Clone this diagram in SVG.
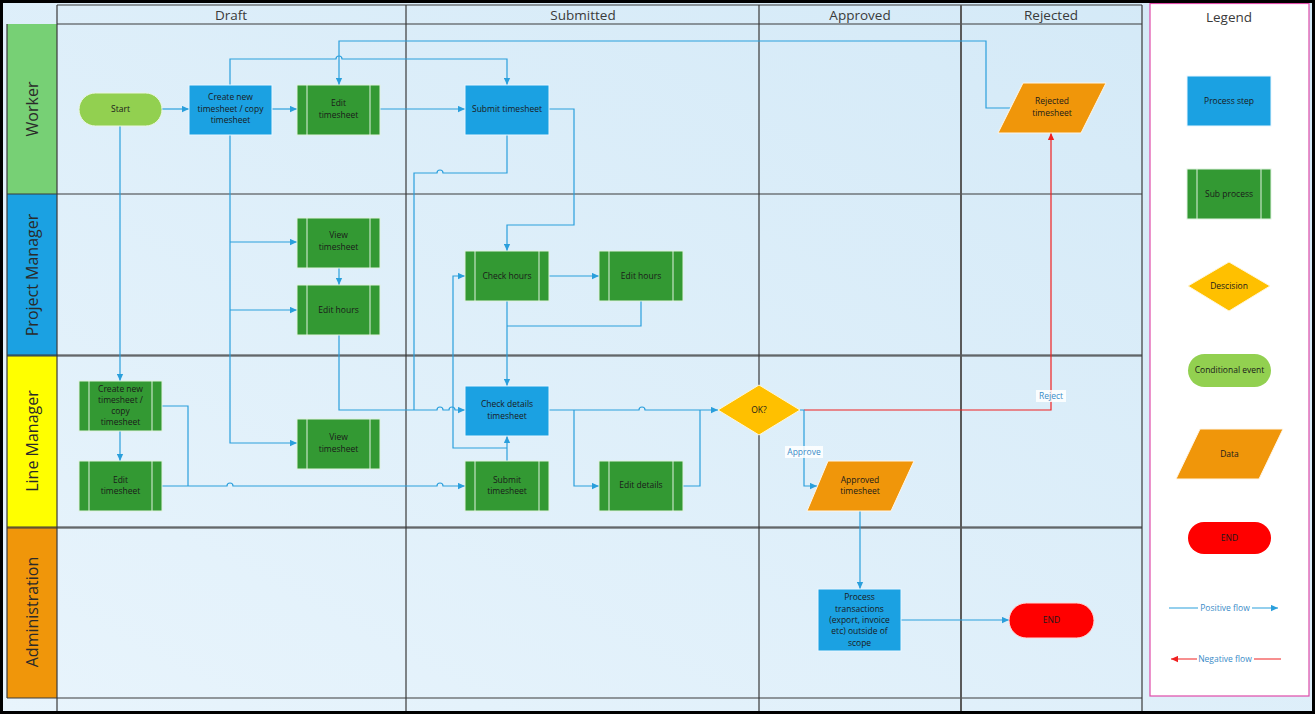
<svg xmlns="http://www.w3.org/2000/svg" width="1315" height="714" viewBox="0 0 1315 714">
<defs>
<linearGradient id="bg" x1="0" y1="1" x2="1" y2="0">
<stop offset="0" stop-color="#e8f4fc"/>
<stop offset="1" stop-color="#d3e9f7"/>
</linearGradient>
<marker id="ab" viewBox="0 0 10 10" refX="10" refY="5" markerWidth="7" markerHeight="7" markerUnits="userSpaceOnUse" orient="auto"><path d="M0,0.5 L10,5 L0,9.5z" fill="#2a9fdc"/></marker>
<marker id="ar" viewBox="0 0 10 10" refX="10" refY="5" markerWidth="7" markerHeight="7" markerUnits="userSpaceOnUse" orient="auto"><path d="M0,0.5 L10,5 L0,9.5z" fill="#f02020"/></marker>
</defs>
<style>
.grid{fill:none;stroke:#3a3a3a;stroke-width:1.2}
.hd{font-family:"Open Sans","Noto Sans",sans-serif;font-size:13.5px;fill:#3a3a3a;text-anchor:middle}
.lane{font-family:"Open Sans","Noto Sans",sans-serif;font-size:16px;fill:#2a2a2a;text-anchor:middle}
.t{font-family:"Open Sans","Noto Sans",sans-serif;font-size:8.5px;fill:#1a1a1a;text-anchor:middle}
.lbl{font-family:"Open Sans","Noto Sans",sans-serif;font-size:8.5px;fill:#3a8cc8;text-anchor:middle}
.proc{fill:#1ba1e2;stroke:#e8f6ff;stroke-width:1}
.sub{fill:#339933;stroke:#e0f2e0;stroke-width:1}
.subl{stroke:#e0f2e0;stroke-width:1}
.data{fill:#f0960a;stroke:#fff6e8;stroke-width:1}
.dec{fill:#ffc000;stroke:#fff7d8;stroke-width:1}
.ln{fill:none;stroke:#2a9fdc;stroke-width:1.2}
.lnr{fill:none;stroke:#f02020;stroke-width:1.2}
</style>
<!-- background -->
<rect x="0" y="0" width="1315" height="714" fill="url(#bg)"/>
<!-- pool grid -->
<g id="pool">
<rect x="7" y="24" width="50" height="170" fill="#77d075"/>
<rect x="7" y="194" width="50" height="162" fill="#1ba1e2"/>
<rect x="7" y="356" width="50" height="171" fill="#ffff00"/>
<rect x="7" y="527" width="50" height="171" fill="#f0960a"/>
<path class="grid" d="M57,5 H1142 M57,24 H1142"/>
<path class="grid" d="M7,24 V698 M7,194 H1142 M7,356 H1142 M7,527 H1142 M7,698 H1142"/>
<path class="grid" d="M7,355 H1142 M7,528 H1142" stroke-width="0.8"/>
<path class="grid" d="M57,5 V714 M406,5 V714 M759,5 V714 M1142,5 V714"/>
<path d="M961,5 V714" fill="none" stroke="#5a5a5a" stroke-width="2"/>
<text class="hd" x="231" y="20">Draft</text>
<text class="hd" x="583" y="20">Submitted</text>
<text class="hd" x="860" y="20">Approved</text>
<text class="hd" x="1051" y="20">Rejected</text>
<text class="lane" transform="translate(38,109) rotate(-90)">Worker</text>
<text class="lane" transform="translate(38,275) rotate(-90)">Project Manager</text>
<text class="lane" transform="translate(38,441) rotate(-90)">Line Manager</text>
<text class="lane" transform="translate(38,612) rotate(-90)">Administration</text>
</g>
<!-- connectors -->
<g id="connectors">
<path class="ln" d="M161,109 H189" marker-end="url(#ab)"/>
<path class="ln" d="M272,109 H297" marker-end="url(#ab)"/>
<path class="ln" d="M380,109 H465" marker-end="url(#ab)"/>
<path class="ln" d="M230,85 V59 H336 a3,3 0 0 1 6,0 H507 V85" marker-end="url(#ab)"/>
<path class="ln" d="M1010,108 H986 V41 H339 V85" marker-end="url(#ab)"/>
<path class="ln" d="M549,109 H574 V225 H507 V251" marker-end="url(#ab)"/>
<path class="ln" d="M507,135 V173 H443 a3,3 0 0 0 -6,0 H414 V410"/>
<path class="ln" d="M339,335 V410 H437 a3,3 0 0 1 6,0 H449 a3,3 0 0 1 6,0 H465" marker-end="url(#ab)"/>
<path class="ln" d="M507,461 V436" marker-end="url(#ab)"/>
<path class="ln" d="M507,448 H453 V276 H465" marker-end="url(#ab)"/>
<path class="ln" d="M549,276 H599" marker-end="url(#ab)"/>
<path class="ln" d="M507,301 V386" marker-end="url(#ab)"/>
<path class="ln" d="M641,301 V326 H507"/>
<path class="ln" d="M549,410 H639 a3,3 0 0 1 6,0 H718" marker-end="url(#ab)"/>
<path class="ln" d="M574,410 V486 H599" marker-end="url(#ab)"/>
<path class="ln" d="M683,486 H700 V410"/>
<path class="ln" d="M120,126 V381" marker-end="url(#ab)"/>
<path class="ln" d="M120,431 V461" marker-end="url(#ab)"/>
<path class="ln" d="M230,135 V443 H297" marker-end="url(#ab)"/>
<path class="ln" d="M230,242 H297" marker-end="url(#ab)"/>
<path class="ln" d="M230,310 H297" marker-end="url(#ab)"/>
<path class="ln" d="M339,268 V285" marker-end="url(#ab)"/>
<path class="ln" d="M162,406 H188 V486"/>
<path class="ln" d="M162,486 H227 a3,3 0 0 1 6,0 H437 a3,3 0 0 1 6,0 H465" marker-end="url(#ab)"/>
<path class="lnr" d="M804,410 H1051 V133" marker-end="url(#ar)"/>
<path class="ln" d="M800,410 H804 V486 H817" marker-end="url(#ab)"/>
<path class="ln" d="M860,511 V589" marker-end="url(#ab)"/>
<path class="ln" d="M901,620 H1009" marker-end="url(#ab)"/>
<rect x="1036" y="390" width="30" height="12" fill="#ffffff" opacity="0.85"/>
<text class="lbl" x="1051" y="399">Reject</text>
<rect x="785" y="446" width="38" height="12" fill="#ffffff" opacity="0.85"/>
<text class="lbl" x="804" y="455">Approve</text>
</g>
<!-- nodes -->
<g id="start"><rect x="79" y="93" width="83" height="33" rx="16.5" fill="#92d050" stroke="#eaf6e0"/><text class="t" x="120.5" y="112">Start</text></g>
<g id="create_worker"><rect class="proc" x="189" y="85" width="83" height="50"/><text class="t" x="230.5" y="100">Create new</text><text class="t" x="230.5" y="111.5">timesheet / copy</text><text class="t" x="230.5" y="123">timesheet</text></g>
<g id="edit_worker"><rect class="sub" x="297" y="85" width="83" height="50"/><path class="subl" d="M307,85 V135 M370,85 V135"/><text class="t" x="338.5" y="106">Edit</text><text class="t" x="338.5" y="118">timesheet</text></g>
<g id="submit_worker"><rect class="proc" x="465" y="85" width="84" height="50"/><text class="t" x="507" y="112">Submit timesheet</text></g>
<g id="rejected"><polygon class="data" points="1023,83 1106,83 1081,133 998,133"/><text class="t" x="1052" y="104">Rejected</text><text class="t" x="1052" y="116">timesheet</text></g>
<g id="view_pm"><rect class="sub" x="297" y="218" width="83" height="50"/><path class="subl" d="M307,218 V268 M370,218 V268"/><text class="t" x="338.5" y="238">View</text><text class="t" x="338.5" y="250">timesheet</text></g>
<g id="edithours_pm"><rect class="sub" x="297" y="285" width="83" height="50"/><path class="subl" d="M307,285 V335 M370,285 V335"/><text class="t" x="338.5" y="313">Edit hours</text></g>
<g id="checkhours"><rect class="sub" x="465" y="251" width="84" height="50"/><path class="subl" d="M475,251 V301 M539,251 V301"/><text class="t" x="507" y="279">Check hours</text></g>
<g id="edithours"><rect class="sub" x="599" y="251" width="84" height="50"/><path class="subl" d="M609,251 V301 M673,251 V301"/><text class="t" x="641" y="279">Edit hours</text></g>
<g id="create_lm"><rect class="sub" x="79" y="381" width="83" height="50"/><path class="subl" d="M89,381 V431 M152,381 V431"/><text class="t" x="120.5" y="392">Create new</text><text class="t" x="120.5" y="403">timesheet /</text><text class="t" x="120.5" y="414">copy</text><text class="t" x="120.5" y="425">timesheet</text></g>
<g id="edit_lm"><rect class="sub" x="79" y="461" width="83" height="50"/><path class="subl" d="M89,461 V511 M152,461 V511"/><text class="t" x="120.5" y="482.5">Edit</text><text class="t" x="120.5" y="493.5">timesheet</text></g>
<g id="view_lm"><rect class="sub" x="297" y="419" width="83" height="50"/><path class="subl" d="M307,419 V469 M370,419 V469"/><text class="t" x="338.5" y="440">View</text><text class="t" x="338.5" y="452">timesheet</text></g>
<g id="checkdetails"><rect class="proc" x="465" y="386" width="84" height="50"/><text class="t" x="507" y="406.5">Check details</text><text class="t" x="507" y="418.5">timesheet</text></g>
<g id="submit_lm"><rect class="sub" x="465" y="461" width="84" height="50"/><path class="subl" d="M475,461 V511 M539,461 V511"/><text class="t" x="507" y="482.5">Submit</text><text class="t" x="507" y="493.5">timesheet</text></g>
<g id="editdetails"><rect class="sub" x="599" y="461" width="84" height="50"/><path class="subl" d="M609,461 V511 M673,461 V511"/><text class="t" x="641" y="488">Edit details</text></g>
<g id="ok"><polygon class="dec" points="718,410 759,385 800,410 759,435"/><text class="t" x="759" y="413">OK?</text></g>
<g id="approved"><polygon class="data" points="828,461 914,461 891,511 807,511"/><text class="t" x="860" y="482.5">Approved</text><text class="t" x="860" y="493.5">timesheet</text></g>
<g id="process"><rect class="proc" x="818" y="589" width="83" height="62"/><text class="t" x="859.5" y="600">Process</text><text class="t" x="859.5" y="612">transactions</text><text class="t" x="859.5" y="623">(export, invoice</text><text class="t" x="859.5" y="634">etc) outside of</text><text class="t" x="859.5" y="646">scope</text></g>
<g id="end"><rect x="1009" y="603" width="85" height="35" rx="17.5" fill="#ff0000" stroke="#ffd8d8"/><text class="t" x="1051.5" y="623" fill="#3a0000">END</text></g>
<!-- legend -->
<g id="legend">
<rect x="1150" y="3.5" width="159" height="692.5" fill="#ffffff" stroke="#e04aa8" stroke-width="1.2"/>
<text x="1229" y="22" class="hd" font-size="14">Legend</text>
<rect class="proc" x="1187" y="76" width="84" height="50"/><text class="t" x="1229" y="104">Process step</text>
<rect class="sub" x="1187" y="169" width="84" height="50"/><path class="subl" d="M1197,169 V219 M1261,169 V219"/><text class="t" x="1229" y="197">Sub process</text>
<polygon class="dec" points="1188,286 1229,262 1270,286 1229,311"/><text class="t" x="1229" y="289">Descision</text>
<rect x="1188" y="354" width="83" height="33" rx="16.5" fill="#92d050"/><text class="t" x="1229.5" y="372.5">Conditional event</text>
<polygon class="data" points="1200,429 1283,429 1259,479 1176,479"/><text class="t" x="1229.5" y="457">Data</text>
<rect x="1188" y="522" width="83" height="32" rx="16" fill="#ff0000"/><text class="t" x="1229.5" y="541" fill="#3a0000">END</text>
<path class="ln" d="M1169,608 H1198 M1252,608 H1278" marker-end="url(#ab)"/>
<text class="lbl" x="1225" y="611">Positive flow</text>
<path class="lnr" d="M1281,659 H1254 M1197,659 H1171" marker-end="url(#ar)"/>
<text class="lbl" x="1225" y="662">Negative flow</text>
</g>
<rect x="1.5" y="1.5" width="1312" height="711" fill="none" stroke="#000000" stroke-width="3"/>
</svg>
